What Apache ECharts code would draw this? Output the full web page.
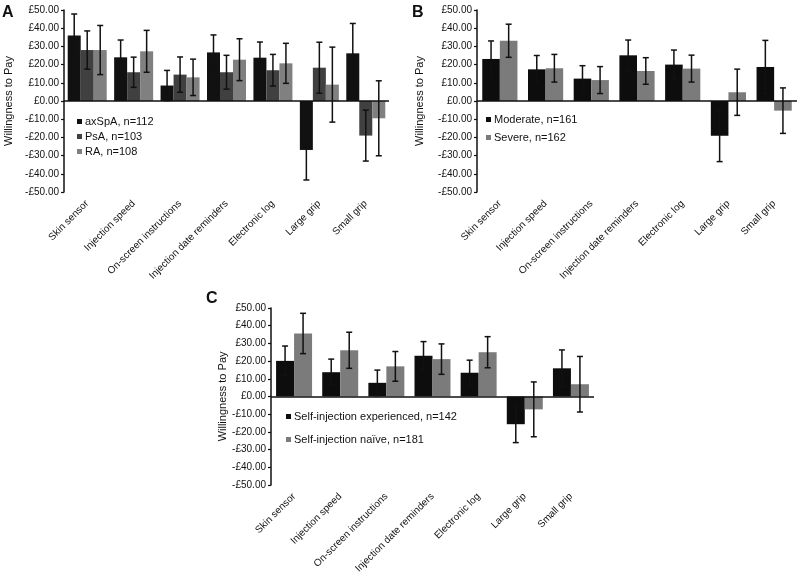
<!DOCTYPE html>
<html>
<head>
<meta charset="utf-8">
<script src="https://cdn.jsdelivr.net/npm/echarts@6/dist/echarts.min.js"></script>
<style>html,body{margin:0;padding:0;background:#fff;}#c{width:800px;height:576px;}</style>
</head>
<body>
<div id="c"></div>
<script>
const categories = ['Skin sensor','Injection speed','On-screen instructions','Injection date reminders','Electronic log','Large grip','Small grip'];
const yTicks = {min:-50, max:50, interval:10};

// Panel A
const aNames = ['axSpA, n=112','PsA, n=103','RA, n=108'];
const aAxSpA = [36, 24, 8.5, 26.7, 23.8, -26.9, 26.2];
const aAxSpAErr = [11.8, 9.5, 8.3, 9.6, 8.6, 16.5, 16.4];
const aPsA = [28, 15.8, 14.5, 15.8, 16.9, 18.3, -19];
const aPsAErr = [10.5, 8.3, 9.7, 9.3, 8.7, 14, 14];
const aRA = [28, 27.3, 13, 22.7, 20.7, 9, -9.5];
const aRAErr = [13.5, 11.5, 10, 11.5, 11, 20.6, 20.6];

// Panel B
const bNames = ['Moderate, n=161','Severe, n=162'];
const bModerate = [23.1, 17.4, 12.3, 25.1, 20, -19.1, 18.7];
const bModerateErr = [9.9, 7.6, 7.1, 8.4, 8, 14.2, 14.6];
const bSevere = [33.1, 18, 11.5, 16.5, 17.8, 4.8, -5.3];
const bSevereErr = [9.1, 7.6, 7.4, 7.3, 7.4, 12.7, 12.5];

// Panel C
const cNames = ['Self-injection experienced, n=142','Self-injection naïve, n=181'];
const cExperienced = [20.1, 13.7, 7.7, 23, 13.4, -15.7, 15.9];
const cExperiencedErr = [8.4, 7.4, 7.2, 8, 7.1, 10.4, 10.4];
const cNaive = [35.6, 26.1, 17, 21.1, 25, -7.3, 6.9];
const cNaiveErr = [11.4, 10.2, 8.4, 8.6, 8.8, 15.5, 15.7];

const FONT = 'Liberation Sans, Arial, sans-serif';
const TXT = '#111';
const grids = [
  {left:64, top:10, width:325, height:182},
  {left:477, top:10, width:320, height:182},
  {left:271, top:308, width:323, height:179}
];
const gaps = [0.16, 0.23, 0.22];
const nameGaps = [50, 52, 42];

function fmt(v){ return (v<0?'-':'') + '£' + Math.abs(v).toFixed(2); }

const xAxes = [], yAxes = [], series = [];
grids.forEach((g,i)=>{
  xAxes.push({type:'category', gridIndex:i, data:categories,
    axisLine:{show:false}, axisTick:{show:false},
    axisLabel:{rotate:45, margin:10, fontSize:10, color:TXT, fontFamily:FONT, interval:0}});
  yAxes.push({type:'value', gridIndex:i, min:yTicks.min, max:yTicks.max, interval:yTicks.interval,
    splitLine:{show:false},
    axisLine:{show:true, lineStyle:{color:'#111', width:1.5}},
    axisTick:{show:true, length:3, lineStyle:{color:'#111', width:1.2}},
    axisLabel:{formatter:fmt, fontSize:10, color:TXT, fontFamily:FONT, margin:5},
    name:'Willingness to Pay', nameLocation:'middle', nameGap:nameGaps[i], nameRotate:90,
    nameTextStyle:{fontSize:11, color:TXT, fontFamily:FONT}});
});

function errRender(n, idx, gap){
  return function(params, api){
    const ci = api.value(0), lo = api.value(1), hi = api.value(2);
    const band = api.size([1,0])[0];
    const bw = band*(1-gap)/n;
    const cx = api.coord([ci,0])[0] - band*(1-gap)/2 + (idx+0.5)*bw;
    const yl = api.coord([ci,lo])[1], yh = api.coord([ci,hi])[1];
    const st = {stroke:'#111', lineWidth:1.5};
    const cap = 3;
    return {type:'group', children:[
      {type:'line', shape:{x1:cx,y1:yh,x2:cx,y2:yl}, style:st},
      {type:'line', shape:{x1:cx-cap,y1:yh,x2:cx+cap,y2:yh}, style:st},
      {type:'line', shape:{x1:cx-cap,y1:yl,x2:cx+cap,y2:yl}, style:st}
    ]};
  };
}

function addPanel(gi, names, vals, errs, colors){
  const n = vals.length;
  vals.forEach((v,k)=>{
    const s = {type:'bar', name:names[k], xAxisIndex:gi, yAxisIndex:gi, data:v,
      itemStyle:{color:colors[k]}, barGap:'0%', barCategoryGap:(gaps[gi]*100)+'%', silent:true};
    if(k===0){
      s.markLine = {silent:true, symbol:['none','none'], label:{show:false},
        lineStyle:{color:'#111', width:1.5, type:'solid'}, data:[{yAxis:0}], animation:false};
    }
    series.push(s);
  });
  vals.forEach((v,k)=>{
    series.push({type:'custom', name:names[k]+' err', xAxisIndex:gi, yAxisIndex:gi, z:5,
      renderItem:errRender(n,k,gaps[gi]),
      data:v.map((x,j)=>[j, x-errs[k][j], x+errs[k][j]]), silent:true});
  });
}
addPanel(0, aNames, [aAxSpA,aPsA,aRA], [aAxSpAErr,aPsAErr,aRAErr], ['#111111','#404040','#808080']);
addPanel(1, bNames, [bModerate,bSevere], [bModerateErr,bSevereErr], ['#0d0d0d','#7b7b7b']);
addPanel(2, cNames, [cExperienced,cNaive], [cExperiencedErr,cNaiveErr], ['#0d0d0d','#7b7b7b']);

function legend(names, left, top, gap){
  return {data:names, orient:'vertical', left:left, top:top, itemWidth:5, itemHeight:5, itemGap:gap,
    icon:'rect', padding:0, selectedMode:false,
    textStyle:{fontSize:11, color:TXT, fontFamily:FONT, padding:[0,0,0,-2]}};
}

const chart = echarts.init(document.getElementById('c'), null, {renderer:'canvas'});
chart.setOption({
  animation:false,
  backgroundColor:'#fff',
  title:[
    {text:'A', left:2, top:5, textStyle:{fontSize:16, fontWeight:'bold', color:'#111', fontFamily:FONT}, padding:0},
    {text:'B', left:412, top:5, textStyle:{fontSize:16, fontWeight:'bold', color:'#111', fontFamily:FONT}, padding:0},
    {text:'C', left:206, top:291, textStyle:{fontSize:16, fontWeight:'bold', color:'#111', fontFamily:FONT}, padding:0}
  ],
  legend:[
    legend(aNames, 77, 116, 4),
    legend(bNames, 486, 114, 7),
    legend(cNames, 286, 411, 12)
  ],
  grid:grids,
  xAxis:xAxes,
  yAxis:yAxes,
  series:series
});
</script>
</body>
</html>
